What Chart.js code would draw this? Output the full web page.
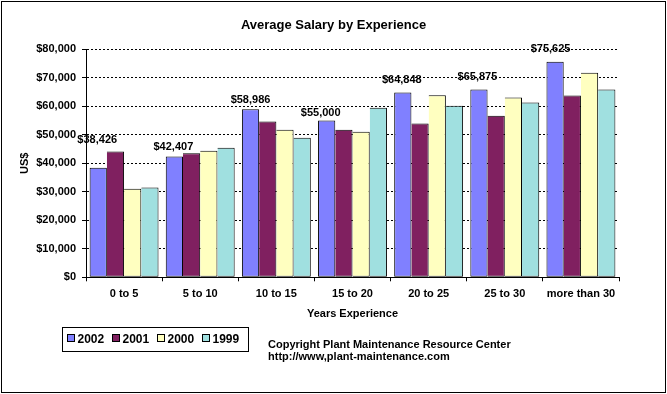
<!DOCTYPE html>
<html>
<head>
<meta charset="utf-8">
<script src="https://cdn.jsdelivr.net/npm/chart.js@4/dist/chart.umd.min.js"></script>
<style>
  html, body { margin: 0; padding: 0; background: #ffffff; }
  #wrap { width: 667px; height: 394px; }
</style>
</head>
<body>
<div id="wrap"><canvas id="c" width="667" height="394"></canvas></div>
<script>
// ---- data ----
const categories = ["0 to 5", "5 to 10", "10 to 15", "15 to 20", "20 to 25", "25 to 30", "more than 30"];
const seriesNames = ["2002", "2001", "2000", "1999"];
const salary2002 = [38426, 42407, 58986, 55000, 64848, 65875, 75625];
const salary2001 = [44100, 43500, 54700, 51800, 54000, 56700, 63800];
const salary2000 = [31100, 44400, 51800, 51100, 63900, 63100, 71800];
const salary1999 = [31500, 45500, 49000, 59500, 60200, 61300, 65900];
const yTicks = [0, 10000, 20000, 30000, 40000, 50000, 60000, 70000, 80000];
const chartTitle = "Average Salary by Experience";
const xTitle = "Years Experience";
const yTitle = "US$";
const footerLines = ["Copyright Plant Maintenance Resource Center", "http://www,plant-maintenance.com"];

// ---- styles ----
const FONT = "'Liberation Sans', Arial, Helvetica, sans-serif";
const colors = ["#8080FF", "#802060", "#FFFFC0", "#A0E0E0"];
const labelLift = [27.5, 9.7, 9.5, 8, 12.5, 12.7, 12.8];
const labelShift = [-1, -1, 0, -6, -1, -1.5, -4.5];

const fmt = v => "$" + v.toLocaleString("en-US");

const extrasPlugin = {
  id: "extras",
  afterDatasetsDraw(chart) {
    const ctx = chart.ctx;
    const meta = chart.getDatasetMeta(0);
    ctx.save();
    ctx.fillStyle = "#000";
    ctx.font = "bold 11px " + FONT;
    ctx.textAlign = "center";
    ctx.textBaseline = "middle";
    meta.data.forEach((bar, i) => {
      const v = chart.data.datasets[0].data[i];
      ctx.fillText(fmt(v), bar.x + labelShift[i], bar.y - labelLift[i]);
    });
    ctx.restore();
  },
  afterDraw(chart) {
    const ctx = chart.ctx;
    ctx.save();
    ctx.strokeStyle = "#000";
    ctx.lineWidth = 1;
    ctx.strokeRect(1.5, 1.5, 664, 391);
    // legend
    ctx.strokeRect(62.5, 327.5, 186, 24);
    ctx.font = "bold 12px " + FONT;
    ctx.textAlign = "left";
    ctx.textBaseline = "middle";
    chart.data.datasets.forEach((ds, i) => {
      const x0 = 67.5 + i * 45;
      ctx.fillStyle = ds.backgroundColor;
      ctx.fillRect(x0, 334.5, 7, 7);
      ctx.strokeStyle = "#000";
      ctx.strokeRect(x0, 334.5, 7, 7);
      ctx.fillStyle = "#000";
      ctx.fillText(ds.label, x0 + 10, 339.5);
    });
    // footer text
    ctx.font = "bold 11px " + FONT;
    ctx.textBaseline = "alphabetic";
    ctx.fillText(footerLines[0], 268, 347.5);
    ctx.fillText(footerLines[1], 268, 360);
    ctx.restore();
  }
};

const datasets = [salary2002, salary2001, salary2000, salary1999].map((arr, i) => ({
  label: seriesNames[i],
  data: arr,
  backgroundColor: colors[i],
  borderColor: "#000",
  borderWidth: 1,
  borderSkipped: i === 0 ? false : "left",
  categoryPercentage: 0.905,
  barPercentage: 1.0
}));

new Chart(document.getElementById("c"), {
  type: "bar",
  data: { labels: categories, datasets },
  plugins: [extrasPlugin],
  options: {
    responsive: false,
    animation: false,
    devicePixelRatio: 1,
    layout: { padding: { left: 18, right: 18, top: 10, bottom: 73.4 } },
    plugins: {
      legend: { display: false },
      tooltip: { enabled: false },
      title: {
        display: true,
        text: chartTitle,
        color: "#000",
        font: { family: FONT, size: 13, weight: "bold", lineHeight: 1.2 },
        padding: { top: 7.7, bottom: 16 }
      }
    },
    scales: {
      x: {
        grid: { display: true, drawOnChartArea: false, drawTicks: true, tickLength: 4, tickColor: "#000", offset: true },
        border: { display: true, color: "#000", width: 1 },
        ticks: { color: "#000", font: { family: FONT, size: 11, weight: "bold" }, padding: 5.6, maxRotation: 0, autoSkip: false },
        title: { display: true, text: xTitle, color: "#000", font: { family: FONT, size: 11, weight: "bold", lineHeight: 1.2 }, padding: { top: 0, bottom: 0 } },
        afterFit(scale) { scale.height = 43.3; }
      },
      y: {
        min: 0,
        max: 80000,
        afterBuildTicks(scale) { scale.ticks = yTicks.map(v => ({ value: v })); },
        grid: { display: true, color: "#000", lineWidth: 1, drawTicks: true, tickLength: 4, tickColor: "#000", tickBorderDash: [] },
        border: { display: true, color: "#000", width: 1, dash: [2, 2] },
        ticks: { color: "#000", font: { family: FONT, size: 11, weight: "bold" }, padding: 6, callback: v => fmt(v) },
        title: { display: true, text: yTitle, color: "#000", font: { family: FONT, size: 11, weight: "bold", lineHeight: 1.2 }, padding: { top: 0, bottom: 0 } },
        afterFit(scale) { scale.width = 68; }
      },
      spacer: {
        type: "linear",
        position: "right",
        display: true,
        grid: { display: false },
        border: { display: false },
        ticks: { display: false },
        title: { display: false },
        afterFit(scale) { scale.width = 30; }
      }
    }
  }
});
</script>
</body>
</html>
